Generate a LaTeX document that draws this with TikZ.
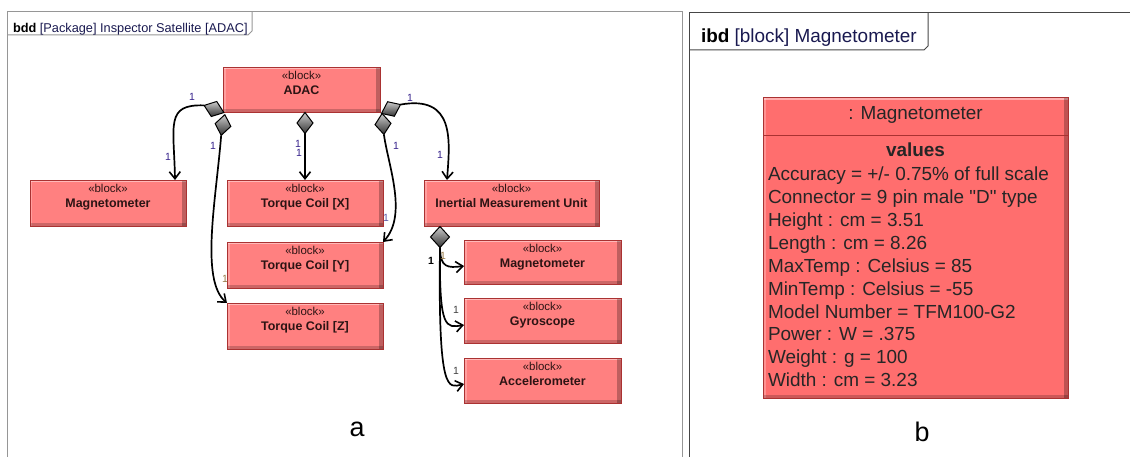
\documentclass[tikz,border=0pt]{standalone}
\usepackage{fontspec}
\setmainfont{Liberation Sans}
\newfontfamily\rawfont{Liberation Sans}[Ligatures=TeXOff]
\usetikzlibrary{shapes.geometric,arrows.meta,calc}
\definecolor{blkfill}{RGB}{255,128,128}
\definecolor{blkedge}{RGB}{170,50,50}
\definecolor{bigfill}{RGB}{255,110,110}
\definecolor{lblpurple}{RGB}{55,35,140}
\definecolor{lbltan}{RGB}{150,120,70}
\definecolor{framegray}{RGB}{150,150,150}
\definecolor{framedark}{RGB}{70,70,70}
\definecolor{navy}{RGB}{25,25,80}
\definecolor{blktext}{RGB}{45,20,20}
\newcommand\myfs[1]{\fontsize{#1}{#1}\selectfont}
\begin{document}
\begin{tikzpicture}[x=1bp,y=-1bp,
  every node/.style={inner sep=0pt,outer sep=0pt},
  bevel/.style={path picture={
    \fill[white,opacity=0.45] (path picture bounding box.north west) rectangle ([yshift=-2.5bp]path picture bounding box.north east);
    \fill[white,opacity=0.25] (path picture bounding box.north west) rectangle ([xshift=2.5bp]path picture bounding box.south west);
    \fill[black,opacity=0.25] ([xshift=-4bp]path picture bounding box.north east) rectangle (path picture bounding box.south east);
    \fill[black,opacity=0.2] ([yshift=3bp]path picture bounding box.south west) rectangle (path picture bounding box.south east);
  }},
  blk/.style={draw=blkedge,fill=blkfill,line width=0.8bp,minimum width=156bp,minimum height=46bp,bevel},
  sblk/.style={blk,minimum width=157bp,minimum height=45bp},
  stereo/.style={anchor=base,text=blktext,font=\myfs{11.5}},
  bname/.style={anchor=base,text=blktext,font=\myfs{12.5}\bfseries},
  agg/.style={diamond,draw=black,line width=1bp,minimum width=21bp,minimum height=16bp,top color=gray!40,bottom color=black!80},
  conn/.style={draw=black,line width=1.7bp,-{Straight Barb[length=7bp,width=11bp,line width=1.6bp]}},
  mult/.style={font=\myfs{10.5},text=lblpurple},
  multt/.style={font=\myfs{10.5},text=lbltan},
  attr/.style={anchor=base west,font=\rawfont\myfs{19},text=black!85},
]
\useasboundingbox (0,0) rectangle (1130,457);
% frames
\draw[framegray,line width=1bp] (7,457) -- (7,12) -- (682,12) -- (682,457);
\draw[framegray,line width=1bp] (7,35) -- (248,35) -- (252,31) -- (252,12);
\node[anchor=base west,font=\myfs{12.8}] (ttl1) at (13,32.5) {\textbf{bdd} \textcolor{navy}{[Package] Inspector Satellite [ADAC]}};
\draw[framedark,line width=1bp] (689,457) -- (689,13) -- (1130,13);
\draw[framedark,line width=1bp] (689,50) -- (924,50) -- (928,46) -- (928,13);
\node[anchor=base west,font=\myfs{19}] (ttl2) at (701,43) {\textbf{ibd} \textcolor{navy}{[block] Magnetometer}};

% blocks
\node[blk,minimum width=157bp,minimum height=45bp] (adac) at (301.5,89.5) {};
\node[blk] (magL) at (108,203) {};
\node[blk] (tcX) at (305,203) {};
\node[blk] (tcY) at (305,265) {};
\node[blk] (tcZ) at (305,326) {};
\node[blk,minimum width=175bp] (imu) at (511.5,203) {};
\node[sblk,minimum height=44bp] (sMag) at (542.5,262) {};
\node[sblk] (sGyr) at (542.5,320.5) {};
\node[sblk] (sAcc) at (542.5,380.5) {};

\foreach \b/\t in {adac/ADAC,magL/Magnetometer,tcX/Torque Coil [X],tcY/Torque Coil [Y],tcZ/Torque Coil [Z],imu/Inertial Measurement Unit,sMag/Magnetometer,sGyr/Gyroscope,sAcc/Accelerometer}{
  \node[stereo] (\b-st) at ([yshift=-12.5bp]\b.north) {«block»};
  \node[bname] (\b-nm) at ([yshift=-28bp]\b.north) {\t};
}

% aggregation diamonds
\node[agg,rotate=160] (dA1) at (214,109) {};
\node[agg,rotate=-100] (dA2) at (223,125) {};
\node[agg,rotate=-90] (dA3) at (305,123) {};
\node[agg,rotate=-85] (dA4) at (383,124) {};
\node[agg,rotate=25] (dA5) at (391,109) {};
\node[agg,rotate=-90,minimum height=19bp] (dI) at (440,237) {};

% connectors
\draw[conn] (dA1.east) .. controls (165,104) and (174,125) .. ([xshift=-11bp]magL.north east);
\draw[conn] (dA2.east) .. controls (216,200) and (200,280) .. (tcZ.north west);
\draw[conn] (dA3.east) -- (tcX.north);
\draw[conn] (dA4.east) .. controls (388,165) and (408,215) .. (tcY.north east);
\draw[conn] (dA5.east) .. controls (455,95) and (450,140) .. ([xshift=23bp]imu.north west);
\draw[conn] (dI.east) .. controls (440,268) and (448,268) .. ([yshift=-4bp]sMag.west);
\draw[conn] (dI.east) .. controls (439,330) and (446,328) .. ([yshift=-4.5bp]sGyr.west);
\draw[conn] (dI.east) .. controls (438,395) and (448,388) .. ([yshift=-3.5bp]sAcc.west);

% multiplicities
\node[mult] (m1) at (192,97) {1};
\node[mult] (m2) at (168,157) {1};
\node[mult] (m3) at (213,146) {1};
\node[multt] (m4) at (225,279) {1};
\node[mult] (m5) at (298,144) {1};
\node[mult] (m6) at (299,153) {1};
\node[mult] (m7) at (396,146) {1};
\node[mult,text=gray!70!blue] (m8) at (386,218) {1};
\node[mult] (m9) at (410,98) {1};
\node[mult] (m10) at (440,155) {1};
\node[mult,text=black,font=\myfs{10.5}\bfseries] (m11) at (431,261) {1};
\node[multt] (m12) at (443,256) {1};
\node[mult,text=black!75] (m13) at (456,310) {1};
\node[mult,text=black!75] (m14) at (456,371) {1};

% right block
\node[draw=blkedge,fill=bigfill,line width=1bp,minimum width=305bp,minimum height=300bp,bevel] (mag) at (915.5,248) {};
\draw[blkedge,line width=1bp] ([yshift=-38bp]mag.north west) -- ([yshift=-38bp]mag.north east) coordinate (sepE);
\node[anchor=base,font=\myfs{19},text=black!85] (magT) at (915.5,120) {: Magnetometer};
\node[anchor=base,font=\myfs{19}\bfseries,text=black!85] (vals) at (915.5,156.5) {values};
\node[attr] (a1) at (768,180.7) {Accuracy = +/- 0.75\% of full scale};
\node[attr] (a2) at (768,203.6) {Connector = 9 pin male "D" type};
\node[attr] (a3) at (768,226.5) {Height : cm = 3.51};
\node[attr] (a4) at (768,249.4) {Length : cm = 8.26};
\node[attr] (a5) at (768,272.3) {MaxTemp : Celsius = 85};
\node[attr] (a6) at (768,295.2) {MinTemp : Celsius = -55};
\node[attr] (a7) at (768,318.1) {Model Number = TFM100-G2};
\node[attr] (a8) at (768,341.0) {Power : W = .375};
\node[attr] (a9) at (768,363.9) {Weight : g = 100};
\node[attr] (a10) at (768,386.8) {Width : cm = 3.23};

% panel labels
\node[anchor=base,font=\myfs{27}] (la) at (357,437) {a};
\node[anchor=base,font=\myfs{27}] (lb) at (922,442) {b};
\end{tikzpicture}
\end{document}
